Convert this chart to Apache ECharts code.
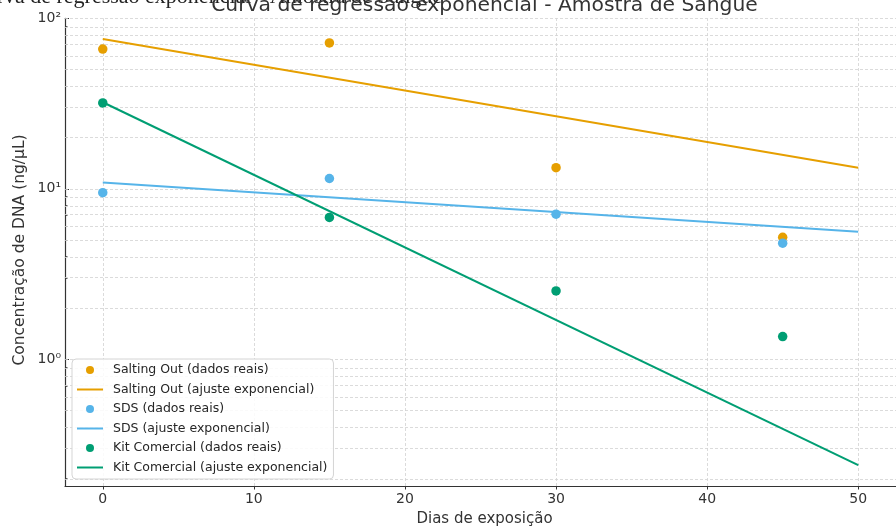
<!DOCTYPE html>
<html><head><meta charset="utf-8">
<script src="https://cdn.jsdelivr.net/npm/echarts@6/dist/echarts.min.js"></script>
<style>html,body{margin:0;padding:0;background:#fff}#c{width:896px;height:529px}</style>
</head><body><div id="c"></div>
<script>
// ---- data ----
const days = [0, 15, 30, 45];
const saltingOut = [66, 71.7, 13.3, 5.2];
const sds = [9.5, 11.5, 7.1, 4.8];
const kitComercial = [31.9, 6.8, 2.52, 1.36];
const fitDays = [0, 50];
const saltingOutFit = [75.7, 13.3];
const sdsFit = [10.9, 5.6];
const kitComercialFit = [32.2, 0.24];

const seriesNames = [
  'Salting Out (dados reais)', 'Salting Out (ajuste exponencial)',
  'SDS (dados reais)', 'SDS (ajuste exponencial)',
  'Kit Comercial (dados reais)', 'Kit Comercial (ajuste exponencial)'
];
const xTicks = [0, 10, 20, 30, 40, 50];
const yTickValues = [1, 10, 100];
const yTickLabels = ['10⁰', '10¹', '10²'];
const yMinorValues = [0.2,0.3,0.4,0.5,0.6,0.7,0.8,0.9, 2,3,4,5,6,7,8,9, 20,30,40,50,60,70,80,90];
const titleText = 'Curva de regressão exponencial - Amostra de Sangue';
const xLabel = 'Dias de exposição';
const yLabel = 'Concentração de DNA (ng/µL)';

const yMin = 0.181, yMax = 100;
const lg = Math.log10;
const colors = { salting: '#E69F00', sds: '#56B4E9', kit: '#009E73' };
const FONT = 'DejaVu Sans';

function pts(xs, ys) { return xs.map((x, i) => [x, lg(ys[i])]); }

const chart = echarts.init(document.getElementById('c'), null, { renderer: 'canvas' });

const scatter = (name, ys, color) => ({
  type: 'scatter', name, data: pts(days, ys), symbol: 'circle', symbolSize: 9.5,
  itemStyle: { color, opacity: 1 }, z: 4
});
const fit = (name, ys, color) => ({
  type: 'line', name, data: pts(fitDays, ys), symbol: 'none', showSymbol: false,
  lineStyle: { color, width: 2 }, itemStyle: { color }, z: 3
});

const option = {
  animation: false,
  backgroundColor: '#fff',
  grid: { left: 65, right: -8, top: 18.3, bottom: 43, containLabel: false },
  xAxis: {
    type: 'value', min: -2.5, max: 52.5,
    axisLine: { show: true, onZero: false, lineStyle: { color: '#333', width: 1.2 } },
    axisTick: { show: true, customValues: xTicks, length: 3.5, lineStyle: { color: '#333' } },
    axisLabel: { customValues: xTicks, fontSize: 14, fontFamily: FONT, color: '#333', margin: 6 },
    splitLine: { show: false }
  },
  yAxis: [{
    type: 'value', min: lg(yMin), max: lg(yMax),
    axisLine: { show: true, onZero: false, lineStyle: { color: '#333', width: 1.2 } },
    axisTick: { show: true, inside: true, length: 4, customValues: yTickValues.map(lg), lineStyle: { color: '#333' } },
    axisLabel: {
      customValues: yTickValues.map(lg), fontSize: 14, fontFamily: FONT, color: '#333', margin: 4,
      formatter: v => { const i = yTickValues.findIndex(t => Math.abs(lg(t) - v) < 1e-6); return i >= 0 ? yTickLabels[i] : ''; }
    },
    splitLine: { show: false }
  }, {
    type: 'value', min: lg(yMin), max: lg(yMax), position: 'left',
    axisLine: { show: false, onZero: false },
    axisTick: { show: true, inside: true, length: 2.5, customValues: yMinorValues.map(lg), lineStyle: { color: '#333', width: 0.8 } },
    axisLabel: { show: false },
    splitLine: { show: false }
  }],
  legend: {
    orient: 'vertical', left: 72, top: 359,
    padding: [3, 6, 3.5, 4], itemGap: 3.5, itemWidth: 26, itemHeight: 8,
    borderColor: '#d5d5d5', borderWidth: 1, borderRadius: 4, backgroundColor: 'rgba(255,255,255,0.85)',
    textStyle: { fontSize: 12.5, fontFamily: FONT, color: '#262626', lineHeight: 16, padding: [0, 0, 0, 5] },
    data: seriesNames.map((n, i) => i % 2 === 0
      ? { name: n, icon: 'circle' }
      : { name: n, itemStyle: { opacity: 0, color: 'rgba(0,0,0,0)', borderWidth: 0 } })
  },
  graphic: [
    { type: 'text', x: -29, y: -3, silent: true,
      style: { text: titleText, fontFamily: 'Liberation Serif', fontSize: 22, fill: '#222', align: 'left', verticalAlign: 'middle' } },
    { type: 'text', x: 484.5, y: 6, silent: true,
      style: { text: titleText, fontFamily: FONT, fontSize: 20.3, fill: '#333', align: 'center', verticalAlign: 'middle' } },
    { type: 'text', x: 484.5, y: 519, silent: true,
      style: { text: xLabel, fontFamily: FONT, fontSize: 15, fill: '#333', align: 'center', verticalAlign: 'middle' } },
    { type: 'text', x: 20, y: 250, rotation: Math.PI / 2, silent: true,
      style: { text: yLabel, fontFamily: FONT, fontSize: 15.5, fill: '#333', align: 'center', verticalAlign: 'middle' } }
  ],
  series: [
    {
      type: 'line', name: '_grid', data: [], silent: true, z: 1,
      markLine: {
        z: 1, silent: true, symbol: ['none', 'none'], label: { show: false }, animation: false,
        lineStyle: { color: '#d2d2d2', width: 0.8, type: [3, 2] },
        emphasis: { disabled: true },
        data: [
          ...yTickValues.concat(yMinorValues).map(v => ({ yAxis: lg(v) })),
          ...xTicks.map(v => ({ xAxis: v }))
        ]
      }
    },
    scatter(seriesNames[0], saltingOut, colors.salting),
    fit(seriesNames[1], saltingOutFit, colors.salting),
    scatter(seriesNames[2], sds, colors.sds),
    fit(seriesNames[3], sdsFit, colors.sds),
    scatter(seriesNames[4], kitComercial, colors.kit),
    fit(seriesNames[5], kitComercialFit, colors.kit)
  ]
};
chart.setOption(option);
</script>
</body></html>
